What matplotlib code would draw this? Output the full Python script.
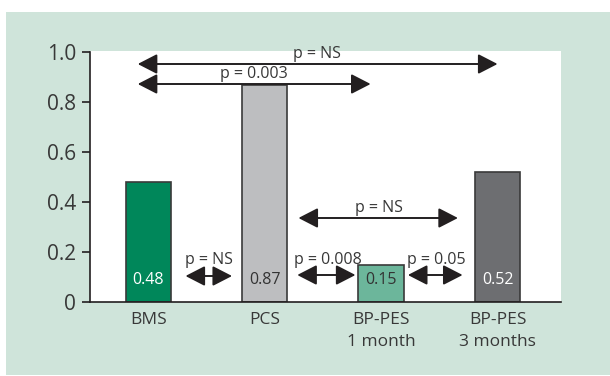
import matplotlib.pyplot as plt
from matplotlib.patches import Rectangle

plt.rcParams['font.family'] = ['Open Sans', 'DejaVu Sans']

categories = ['BMS', 'PCS', 'BP-PES\n1 month', 'BP-PES\n3 months']
values = [0.48, 0.87, 0.15, 0.52]
value_labels = ['0.48', '0.87', '0.15', '0.52']
bar_colors = ['#00875a', '#bdbec0', '#6cb69b', '#6d6e71']
label_colors = ['white', '#333333', '#333333', 'white']
yticks = [0, 0.2, 0.4, 0.6, 0.8, 1.0]
ytick_labels = ['0', '0.2', '0.4', '0.6', '0.8', '1.0']

# comparisons: (x start, x end, y, text, text x, text y)
comparisons = [
    (-0.09, 3.0, 0.952, 'p = NS', 1.45, 0.99),
    (-0.09, 1.91, 0.872, 'p = 0.003', 0.91, 0.91),
    (1.29, 2.66, 0.336, 'p = NS', 1.98, 0.375),
    (0.32, 0.72, 0.104, 'p = NS', 0.52, 0.17),
    (1.28, 1.78, 0.108, 'p = 0.008', 1.54, 0.17),
    (2.23, 2.70, 0.108, 'p = 0.05', 2.47, 0.17),
]

dark = '#231f20'
text_col = '#383838'

fig = plt.figure(figsize=(6.1, 3.76), dpi=100, facecolor='white')
fig.patches.append(Rectangle((6 / 610, 1 / 376), 1 - 6 / 610, 363 / 376,
                             transform=fig.transFigure, facecolor='#cfe4da',
                             edgecolor='none', zorder=-10))

ax = fig.add_axes([90 / 610, 1 - 302 / 376, 471 / 610, 251 / 376])
ax.set_zorder(5)
ax.set_facecolor('white')

x = range(len(categories))
ax.bar(x, values, width=0.39, color=bar_colors, edgecolor='#3a3a3a',
       linewidth=1.2, zorder=2)

for xi, lab, c in zip(x, value_labels, label_colors):
    ax.text(xi, 0.088, lab, ha='center', va='center', fontsize=11.5,
            color=c, zorder=3)

for x0, x1, y, t, tx, ty in comparisons:
    ax.annotate('', xy=(x1, y), xytext=(x0, y),
                arrowprops=dict(arrowstyle='<|-|>,head_length=0.7,head_width=0.36',
                                color=dark, lw=1.4, shrinkA=0, shrinkB=0,
                                mutation_scale=17),
                zorder=4)
    ax.text(tx, ty, t, ha='center', va='center', fontsize=11.5, color=text_col,
            zorder=5)

ax.set_xlim(-0.5, 3.545)
ax.set_ylim(0, 1.004)
ax.set_xticks(list(x))
ax.set_xticklabels(categories, fontsize=12.5, color=text_col, linespacing=1.5)
ax.set_yticks(yticks)
ax.set_yticklabels(ytick_labels, fontsize=15, color=text_col)
ax.tick_params(axis='x', length=0, pad=7)
ax.tick_params(axis='y', length=6, width=1.2, color=dark, pad=4)

for s in ['top', 'right']:
    ax.spines[s].set_visible(False)
ax.spines['left'].set_bounds(0, 1.0)
ax.spines['left'].set_color(dark)
ax.spines['bottom'].set_color(dark)
ax.spines['left'].set_linewidth(1.2)
ax.spines['bottom'].set_linewidth(1.2)

fig.savefig('out.png', dpi=100, facecolor='white')
